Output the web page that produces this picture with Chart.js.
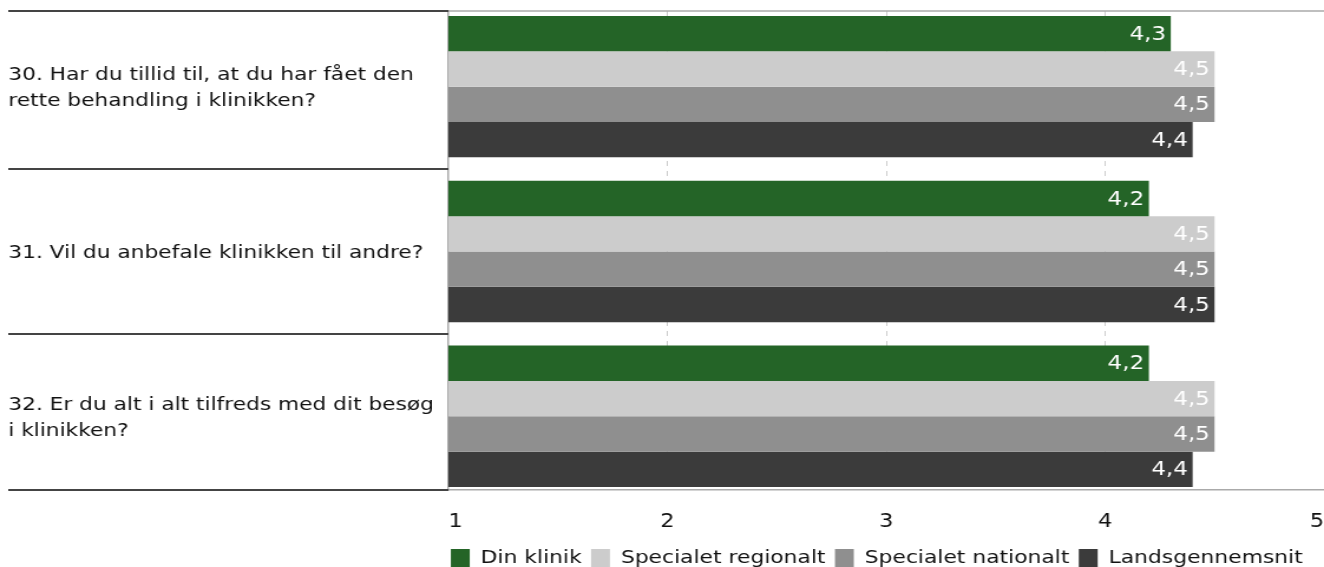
<!DOCTYPE html>
<html lang="da">
<head>
  <meta charset="UTF-8">
  <title>Tilfredshed</title>
  <script src="https://cdn.jsdelivr.net/npm/chart.js"></script>
  <style>
    body {
      margin: 0;
      background: #fff;
      overflow: hidden;
    }
    /* originalen er tegnet lidt bredt: canvas 1122 px strækkes til 1324 px */
    #chart {
      display: block;
      width: 1324px;
      height: 578px;
    }
  </style>
</head>
<body>

<canvas id="chart" width="1122" height="578" style="width:1324px;height:578px"></canvas>

<script>
// spørgsmål (linjeskift som i rapporten)
const questions = [
  ['30. Har du tillid til, at du har fået den', 'rette behandling i klinikken?'],
  ['31. Vil du anbefale klinikken til andre?'],
  ['32. Er du alt i alt tilfreds med dit besøg', 'i klinikken?']
];

const seriesNames = ['Din klinik', 'Specialet regionalt', 'Specialet nationalt', 'Landsgennemsnit'];
const seriesColors = ['#246427', '#cccccc', '#8f8f8f', '#3b3b3b'];

const dinKlinik = [4.3, 4.2, 4.2];
const regionalt = [4.5, 4.5, 4.5];
const nationalt = [4.5, 4.5, 4.5];
const landsgns = [4.4, 4.5, 4.4];

const xTicks = [1, 2, 3, 4, 5];

const allSeries = [dinKlinik, regionalt, nationalt, landsgns];

const FONT = '"DejaVu Sans", Verdana, sans-serif';
Chart.defaults.font.family = FONT;
Chart.defaults.color = '#111111';

function noPad(sc) {
  sc.paddingTop = 0;
  sc.paddingBottom = 0;
  sc.paddingLeft = 0;
  sc.paddingRight = 0;
}

// linjer i venstre side + top
const frameLines = {
  id: 'frameLines',
  beforeDatasetsDraw(chart) {
    const { ctx, chartArea, scales } = chart;
    const y = scales.y;
    ctx.save();
    ctx.strokeStyle = '#aaaaaa';
    ctx.lineWidth = 1.5;
    ctx.beginPath();
    ctx.moveTo(chartArea.left, chartArea.top);
    ctx.lineTo(chartArea.right, chartArea.top);
    ctx.stroke();

    ctx.strokeStyle = '#444444';
    ctx.lineWidth = 2;
    const rows = [chartArea.top, chartArea.bottom];
    for (let i = 0; i < questions.length - 1; i++) {
      rows.push(y.getPixelForValue(i + 0.5));
    }
    rows.forEach(py => {
      ctx.beginPath();
      ctx.moveTo(7, py);
      ctx.lineTo(chartArea.left, py);
      ctx.stroke();
    });
    ctx.restore();
  }
};

// værdier inde i søjlerne
const valueLabels = {
  id: 'valueLabels',
  afterDatasetsDraw(chart) {
    const ctx = chart.ctx;
    ctx.save();
    ctx.fillStyle = '#ffffff';
    ctx.font = '19.5px ' + FONT;
    ctx.textAlign = 'right';
    ctx.textBaseline = 'middle';
    chart.data.datasets.forEach((ds, di) => {
      chart.getDatasetMeta(di).data.forEach((bar, i) => {
        const v = ds.data[i].x;
        ctx.fillText(v.toFixed(1).replace('.', ','), bar.x - 4, bar.y + 1);
      });
    });
    ctx.restore();
  }
};

// signaturforklaring lidt mod venstre, som i originalen
const legendShift = {
  id: 'legendShift',
  afterLayout(chart) {
    if (chart.legend) {
      chart.legend.left -= 8;
      chart.legend.right -= 8;
    }
  }
};

new Chart(document.getElementById('chart'), {
  type: 'bar',
  data: {
    datasets: allSeries.map((vals, s) => ({
      label: seriesNames[s],
      data: vals.map((v, i) => ({ x: v, y: i })),
      backgroundColor: seriesColors[s],
      borderWidth: 0,
      categoryPercentage: 0.858,
      barPercentage: 1
    }))
  },
  options: {
    indexAxis: 'y',
    responsive: false,
    devicePixelRatio: 1,
    animation: false,
    layout: { autoPadding: false, padding: { top: 11, left: 7, right: 0, bottom: 0 } },
    scales: {
      x: {
        type: 'linear',
        min: 1,
        max: 5,
        afterBuildTicks: sc => { sc.ticks = xTicks.map(v => ({ value: v })); },
        afterFit: sc => { sc.height = 51; noPad(sc); },
        ticks: {
          align: 'inner',
          padding: 21,
          font: { size: 19 },
          color: '#111111'
        },
        grid: {
          drawTicks: false,
          color: ctx => (ctx.tick && (ctx.tick.value === 1 || ctx.tick.value === 5)) ? 'rgba(0,0,0,0)' : '#cccccc',
          lineWidth: 1
        },
        border: { display: true, color: '#aaaaaa', width: 1.5, dash: [5, 5] }
      },
      y: {
        type: 'linear',
        reverse: true,
        offset: false,
        bounds: 'data',
        min: -0.459,
        max: 2.447,
        // etiketterne sidder en anelse under søjlegruppens midte
        afterBuildTicks: sc => { sc.ticks = questions.map((q, i) => ({ value: i + 0.012 })); },
        afterFit: sc => { sc.width = 373; noPad(sc); },
        ticks: {
          crossAlign: 'far',
          padding: 0,
          font: { size: 18.4, lineHeight: 1.42 },
          color: '#111111',
          callback: v => questions[Math.round(v)]
        },
        grid: { display: false, offset: false },
        border: { display: true, color: '#aaaaaa', width: 1.5 }
      }
    },
    plugins: {
      legend: {
        position: 'bottom',
        fullSize: false,
        labels: {
          boxWidth: 16,
          boxHeight: 19,
          padding: 8,
          font: { size: 18.5 },
          color: '#111111'
        }
      },
      tooltip: { enabled: false }
    }
  },
  plugins: [frameLines, valueLabels, legendShift]
});
</script>

</body>
</html>
